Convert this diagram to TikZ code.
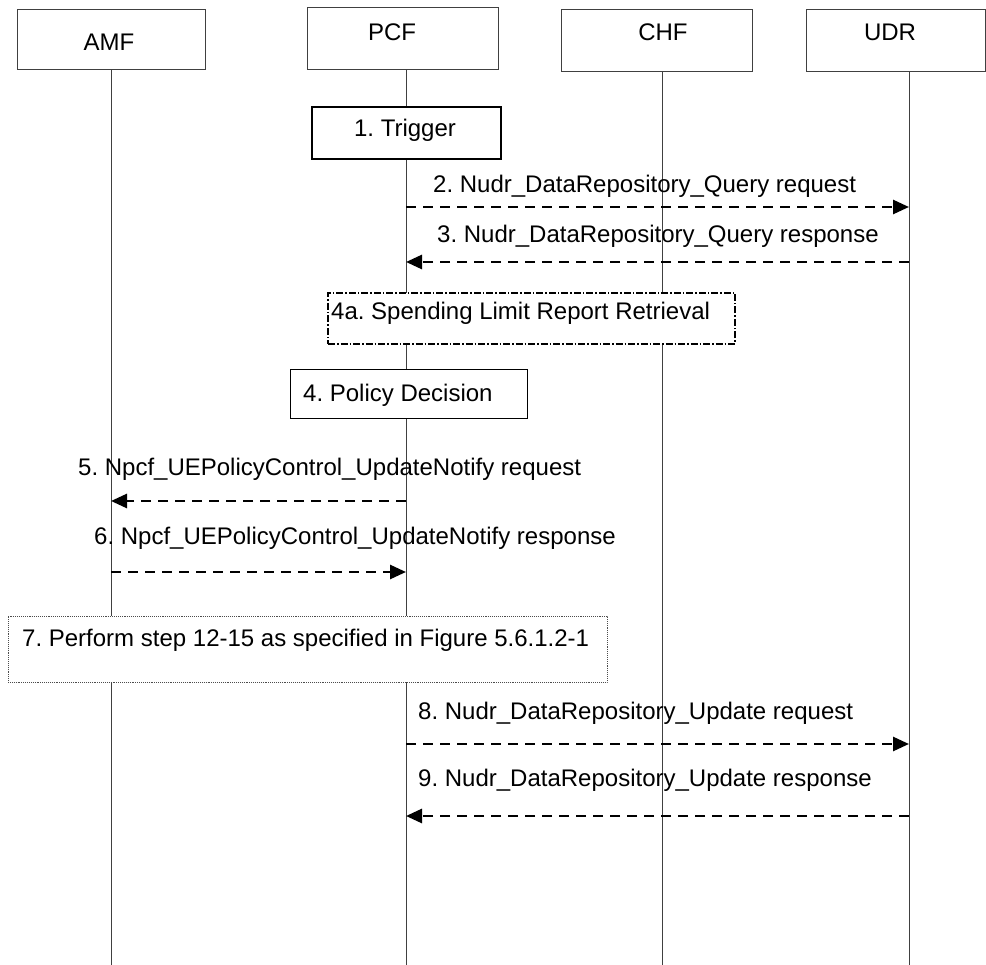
\documentclass[tikz,border=0pt]{standalone}
\usepackage{fontspec}
\setmainfont{Liberation Sans}
\usetikzlibrary{arrows.meta}
\frenchspacing
\begin{document}
\begin{tikzpicture}[x=1pt,y=-1pt,
  every node/.style={font=\fontsize{24}{28}\selectfont, inner sep=0pt},
  actorbox/.style={draw=black!75, line width=1pt, fill=white, rectangle},
  lifeline/.style={draw=black!75, line width=1pt},
  stepbox/.style={draw=black, line width=1pt, fill=white, rectangle},
  thickbox/.style={draw=black, line width=2pt, fill=white, rectangle},
  optbox/.style={draw=black, line width=1.4pt, fill=white, rectangle, dash pattern=on 7pt off 2pt on 1.5pt off 2pt},
  dotbox/.style={draw=black!70, line width=0.9pt, fill=white, rectangle, densely dotted},
  msg/.style={line width=2.7pt, dash pattern=on 10pt off 7pt, -{Triangle[length=16pt,width=14pt]}},
  msgtext/.style={anchor=west}
]
\useasboundingbox (0,0) rectangle (986,965);

% lifeline coordinates
\coordinate (amfTop) at (111,70);  \coordinate (amfBot) at (111,965);
\coordinate (pcfTop) at (406,70);  \coordinate (pcfBot) at (406,965);
\coordinate (chfTop) at (662,72);  \coordinate (chfBot) at (662,965);
\coordinate (udrTop) at (909,72);  \coordinate (udrBot) at (909,965);

\draw[lifeline] (amfTop) -- (amfBot);
\draw[lifeline] (pcfTop) -- (pcfBot);
\draw[lifeline] (chfTop) -- (chfBot);
\draw[lifeline] (udrTop) -- (udrBot);

% actor boxes
\node[actorbox, minimum width=188pt, minimum height=60pt] (amf) at (111,40) {};
\node (amfT) at (109,42) {AMF};
\node[actorbox, minimum width=191pt, minimum height=62pt] (pcf) at (402.5,39) {};
\node (pcfT) at (392,32) {PCF};
\node[actorbox, minimum width=191pt, minimum height=62pt] (chf) at (656.5,41) {};
\node (chfT) at (663,32) {CHF};
\node[actorbox, minimum width=179pt, minimum height=62pt] (udr) at (895.5,41) {};
\node (udrT) at (890,32) {UDR};

% step boxes
\node[thickbox, minimum width=189pt, minimum height=52pt] (trig) at (406.5,133) {};
\node (trigT) at (405,130) {1. Trigger};

\node[optbox, minimum width=407pt, minimum height=51pt] (slr) at (531.5,318.5) {};
\node[msgtext] (slrT) at (331,313) {4a. Spending Limit Report Retrieval};

\node[stepbox, minimum width=237pt, minimum height=49pt] (pd) at (408.5,394.5) {};
\node[msgtext] (pdT) at (303,395) {4. Policy Decision};

\node[dotbox, minimum width=599pt, minimum height=66pt] (s7) at (307.5,649) {};
\node[msgtext] (s7T) at (22,640) {7. Perform step 12-15 as specified in Figure 5.6.1.2-1};

% message coordinates
\coordinate (m2a) at (406,207); \coordinate (m2b) at (909,207);
\coordinate (m3a) at (909,262); \coordinate (m3b) at (406,262);
\coordinate (m5a) at (406,501); \coordinate (m5b) at (111,501);
\coordinate (m6a) at (111,572); \coordinate (m6b) at (406,572);
\coordinate (m8a) at (406,744); \coordinate (m8b) at (909,744);
\coordinate (m9a) at (909,816); \coordinate (m9b) at (406,816);

\draw[msg] (m2a) -- (m2b);
\node[msgtext] (t2) at (433,186) {2. Nudr\_DataRepository\_Query request};
\draw[msg] (m3a) -- (m3b);
\node[msgtext] (t3) at (437,236) {3. Nudr\_DataRepository\_Query response};

\draw[msg] (m5a) -- (m5b);
\node[msgtext] (t5) at (78,469) {5. Npcf\_UEPolicyControl\_UpdateNotify request};
\draw[msg] (m6a) -- (m6b);
\node[msgtext] (t6) at (94,538) {6. Npcf\_UEPolicyControl\_UpdateNotify response};

\draw[msg] (m8a) -- (m8b);
\node[msgtext] (t8) at (418,713) {8. Nudr\_DataRepository\_Update request};
\draw[msg] (m9a) -- (m9b);
\node[msgtext] (t9) at (418,780) {9. Nudr\_DataRepository\_Update response};
\end{tikzpicture}
\end{document}
